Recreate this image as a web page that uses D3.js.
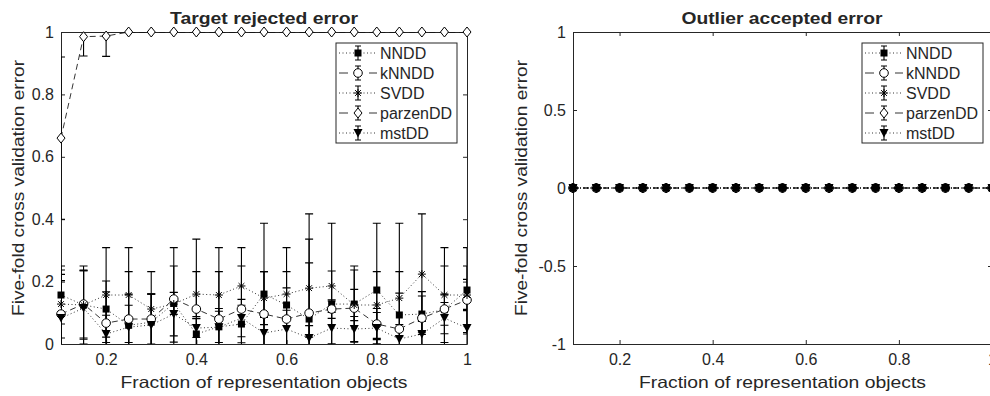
<!DOCTYPE html>
<html>
<head>
<meta charset="utf-8">
<script src="https://cdn.jsdelivr.net/npm/d3@7"></script>
<style>
body { margin: 0; background: #fff; }
text { font-family: "Liberation Sans", Arial, sans-serif; fill: #262626; }
</style>
</head>
<body>
<svg id="chart" width="990" height="396"></svg>
<script>
// data
var fractions = [0.1, 0.15, 0.2, 0.25, 0.3, 0.35, 0.4, 0.45, 0.5, 0.55, 0.6, 0.65, 0.7, 0.75, 0.8, 0.85, 0.9, 0.95, 1.0];
var series_names = ["NNDD", "kNNDD", "SVDD", "parzenDD", "mstDD"];
var series_markers = ["square", "circle", "star", "diamond", "triangle"];
var series_dashes = ["1,2.5", "6,4", "1,2.5", "6,4", "1,2.5"];
var legend_dashes = ["1,2.5", "9,21", "1,2.5", "9,21", "1,2.5"];

// target rejected error
var target_nndd     = [0.157, 0.125, 0.112, 0.060, 0.070, 0.130, 0.032, 0.055, 0.064, 0.160, 0.125, 0.080, 0.128, 0.128, 0.173, 0.093, 0.096, 0.110, 0.173];
var target_nndd_err = [0.093, 0.125, 0.090, 0.100, 0.090, 0.035, 0.050, 0.050, 0.060, 0.227, 0.184, 0.180, 0.259, 0.122, 0.214, 0.070, 0.058, 0.050, 0.136];
var target_knndd     = [0.096, 0.128, 0.067, 0.080, 0.080, 0.144, 0.112, 0.080, 0.112, 0.096, 0.080, 0.099, 0.112, 0.115, 0.064, 0.048, 0.083, 0.112, 0.141];
var target_knndd_err = [0.127, 0.109, 0.100, 0.152, 0.080, 0.165, 0.224, 0.229, 0.138, 0.136, 0.100, 0.318, 0.030, 0.122, 0.050, 0.339, 0.085, 0.138, 0.109];
var target_svdd     = [0.128, 0.125, 0.157, 0.157, 0.112, 0.128, 0.160, 0.157, 0.186, 0.147, 0.160, 0.179, 0.186, 0.125, 0.125, 0.147, 0.224, 0.157, 0.157];
var target_svdd_err = [0.109, 0.110, 0.152, 0.152, 0.120, 0.122, 0.072, 0.075, 0.123, 0.085, 0.072, 0.157, 0.048, 0.050, 0.107, 0.085, 0.193, 0.152, 0.050];
var target_parzen     = [0.660, 0.985, 0.987, 1, 1, 1, 1, 1, 1, 1, 1, 1, 1, 1, 1, 1, 1, 1, 1];
var target_parzen_err = [0.260, 0.062, 0.065, 0, 0, 0, 0, 0, 0, 0, 0, 0, 0, 0, 0, 0, 0, 0, 0];
var target_mst     = [0.083, 0.115, 0.032, 0.054, 0.061, 0.096, 0.051, 0.054, 0.083, 0.035, 0.048, 0.019, 0.051, 0.048, 0.051, 0.016, 0.032, 0.083, 0.051];
var target_mst_err = [0.120, 0.120, 0.060, 0.070, 0.100, 0.070, 0.030, 0.060, 0.060, 0.050, 0.060, 0.040, 0.050, 0.040, 0.050, 0.030, 0.040, 0.050, 0.060];

// outlier accepted error (every method is zero)
var outlier_nndd   = [0, 0, 0, 0, 0, 0, 0, 0, 0, 0, 0, 0, 0, 0, 0, 0, 0, 0, 0];
var outlier_knndd  = [0, 0, 0, 0, 0, 0, 0, 0, 0, 0, 0, 0, 0, 0, 0, 0, 0, 0, 0];
var outlier_svdd   = [0, 0, 0, 0, 0, 0, 0, 0, 0, 0, 0, 0, 0, 0, 0, 0, 0, 0, 0];
var outlier_parzen = [0, 0, 0, 0, 0, 0, 0, 0, 0, 0, 0, 0, 0, 0, 0, 0, 0, 0, 0];
var outlier_mst    = [0, 0, 0, 0, 0, 0, 0, 0, 0, 0, 0, 0, 0, 0, 0, 0, 0, 0, 0];
var outlier_err    = [0, 0, 0, 0, 0, 0, 0, 0, 0, 0, 0, 0, 0, 0, 0, 0, 0, 0, 0];

var x_ticks = [0.2, 0.4, 0.6, 0.8, 1];
var target_y_ticks = [0, 0.2, 0.4, 0.6, 0.8, 1];
var outlier_y_ticks = [-1, -0.5, 0, 0.5, 1];

var svg = d3.select("#chart");
var axis_color = "#262626";

function draw_marker(g, type, cx, cy, open_fill){
	if (type == "square"){
		g.append("rect").attr("x", cx - 3.5).attr("y", cy - 3.5).attr("width", 7).attr("height", 7)
			.attr("fill", "#000");
	} else if (type == "circle"){
		g.append("circle").attr("cx", cx).attr("cy", cy).attr("r", 4.3)
			.attr("fill", open_fill).attr("stroke", "#000").attr("stroke-width", 1);
	} else if (type == "star"){
		var r = 4, d = 2.9;
		g.append("path")
			.attr("d", "M" + (cx - r) + "," + cy + "H" + (cx + r) + "M" + cx + "," + (cy - r) + "V" + (cy + r) +
				"M" + (cx - d) + "," + (cy - d) + "L" + (cx + d) + "," + (cy + d) +
				"M" + (cx - d) + "," + (cy + d) + "L" + (cx + d) + "," + (cy - d))
			.attr("stroke", "#000").attr("stroke-width", 1).attr("fill", "none");
	} else if (type == "diamond"){
		g.append("path")
			.attr("d", "M" + cx + "," + (cy - 5) + "L" + (cx + 4) + "," + cy + "L" + cx + "," + (cy + 5) + "L" + (cx - 4) + "," + cy + "Z")
			.attr("fill", open_fill).attr("stroke", "#000").attr("stroke-width", 1);
	} else if (type == "triangle"){
		g.append("path")
			.attr("d", "M" + (cx - 4.5) + "," + (cy - 4) + "L" + (cx + 4.5) + "," + (cy - 4) + "L" + cx + "," + (cy + 4.5) + "Z")
			.attr("fill", "#000");
	}
}

function draw_panel(cfg){
	var left = cfg.left, right = cfg.right, top = 32, bottom = 344;

	var xScale = d3.scaleLinear().domain([0.1, 1]).range([left, right]);
	var yScale = d3.scaleLinear().domain(cfg.ydomain).range([bottom, top]);

	var g = svg.append("g");

	svg.append("clipPath").attr("id", cfg.id + "-clip")
		.append("rect").attr("x", left).attr("y", top).attr("width", right - left).attr("height", bottom - top);

	var fmt = function(d){ return String(d); };

	// axes, ticks inside (box on)
	g.append("g").attr("transform", "translate(0," + bottom + ")")
		.call(d3.axisBottom(xScale).tickValues(x_ticks).tickFormat(fmt).tickSize(-4).tickSizeOuter(0).tickPadding(10));
	g.append("g").attr("transform", "translate(0," + top + ")")
		.call(d3.axisTop(xScale).tickValues(x_ticks).tickFormat("").tickSize(-4).tickSizeOuter(0));
	g.append("g").attr("transform", "translate(" + left + ",0)")
		.call(d3.axisLeft(yScale).tickValues(cfg.yticks).tickFormat(fmt).tickSize(-4).tickSizeOuter(0).tickPadding(7));
	g.append("g").attr("transform", "translate(" + right + ",0)")
		.call(d3.axisRight(yScale).tickValues(cfg.yticks).tickFormat("").tickSize(-4).tickSizeOuter(0));

	g.selectAll(".domain").attr("stroke", axis_color).attr("stroke-width", 1);
	g.selectAll(".tick line").attr("stroke", axis_color);
	g.selectAll(".tick text").attr("font-size", 16).attr("fill", axis_color)
		.attr("font-family", "'Liberation Sans', Arial, sans-serif");

	// data
	var data_g = g.append("g");
	var line_g = data_g.append("g").attr("clip-path", "url(#" + cfg.id + "-clip)");

	cfg.values.forEach(function(vals, s){
		var errs = cfg.errors[s];
		var pts = fractions.map(function(f, i){ return {x: f, y: vals[i], e: errs[i]}; });

		// error bars
		var eb = line_g.append("g").attr("stroke", "#000").attr("stroke-width", 1.1).attr("fill", "none");
		pts.forEach(function(p){
			var px = xScale(p.x), y0 = yScale(p.y - p.e), y1 = yScale(p.y + p.e);
			eb.append("path").attr("d",
				"M" + px + "," + y0 + "V" + y1 +
				"M" + (px - 4) + "," + y0 + "H" + (px + 4) +
				"M" + (px - 4) + "," + y1 + "H" + (px + 4));
		});

		// line
		line_g.append("path")
			.datum(pts)
			.attr("fill", "none")
			.attr("stroke", "#000")
			.attr("stroke-width", 0.8)
			.attr("stroke-dasharray", series_dashes[s])
			.attr("d", d3.line().x(function(d){ return xScale(d.x); }).y(function(d){ return yScale(d.y); }));

		// markers
		var mg = data_g.append("g");
		pts.forEach(function(p){
			draw_marker(mg, series_markers[s], xScale(p.x), yScale(p.y), cfg.open_fill);
		});
	});

	// labels (the figure's font runs wider than Arial, so stretch to the measured length)
	g.append("text").attr("x", cfg.title_x).attr("y", 24)
		.attr("text-anchor", "middle").attr("font-size", 17).attr("font-weight", "bold")
		.attr("textLength", cfg.title_len).attr("lengthAdjust", "spacingAndGlyphs")
		.attr("fill", "#000").text(cfg.title);
	g.append("text").attr("x", (left + right) / 2).attr("y", 388)
		.attr("text-anchor", "middle").attr("font-size", 16.5)
		.attr("textLength", 287).attr("lengthAdjust", "spacingAndGlyphs")
		.text("Fraction of representation objects");
	g.append("text").attr("transform", "translate(" + cfg.ylabel_x + "," + ((top + bottom) / 2) + ") rotate(-90)")
		.attr("text-anchor", "middle").attr("font-size", 16.5)
		.attr("textLength", 256).attr("lengthAdjust", "spacingAndGlyphs")
		.text("Five-fold cross validation error");

	// legend
	var lx = cfg.legend_x, ly = 43, lw = 121, lh = 100;
	var lg = g.append("g");
	lg.append("rect").attr("x", lx).attr("y", ly).attr("width", lw).attr("height", lh)
		.attr("fill", "#fff").attr("stroke", axis_color).attr("stroke-width", 1);
	series_names.forEach(function(name, s){
		var cy = ly + 10 + s * 20, mx = lx + 22;
		lg.append("path").attr("d", "M" + (lx + 3) + "," + cy + "H" + (lx + 41))
			.attr("stroke", "#000").attr("stroke-width", 0.8).attr("stroke-dasharray", legend_dashes[s]);
		lg.append("path").attr("d",
				"M" + mx + "," + (cy - 7) + "V" + (cy + 7) +
				"M" + (mx - 3) + "," + (cy - 7) + "H" + (mx + 3) +
				"M" + (mx - 3) + "," + (cy + 7) + "H" + (mx + 3))
			.attr("stroke", "#000").attr("stroke-width", 1.1);
		draw_marker(lg, series_markers[s], mx, cy, "#fff");
		lg.append("text").attr("x", lx + 44).attr("y", cy).attr("dy", "0.36em")
			.attr("font-size", 16).attr("fill", "#000").text(name);
	});
}

draw_panel({
	id: "target",
	left: 61, right: 467,
	ydomain: [0, 1], yticks: target_y_ticks,
	values: [target_nndd, target_knndd, target_svdd, target_parzen, target_mst],
	errors: [target_nndd_err, target_knndd_err, target_svdd_err, target_parzen_err, target_mst_err],
	open_fill: "#fff",
	title: "Target rejected error", title_x: 264, title_len: 188,
	ylabel_x: 24, legend_x: 336
});

// all five series sit on top of each other here, so open markers show the filled ones below
draw_panel({
	id: "outlier",
	left: 573, right: 992,
	ydomain: [-1, 1], yticks: outlier_y_ticks,
	values: [outlier_nndd, outlier_knndd, outlier_svdd, outlier_parzen, outlier_mst],
	errors: [outlier_err, outlier_err, outlier_err, outlier_err, outlier_err],
	open_fill: "none",
	title: "Outlier accepted error", title_x: 782, title_len: 201,
	ylabel_x: 527, legend_x: 862
});
</script>
</body>
</html>
